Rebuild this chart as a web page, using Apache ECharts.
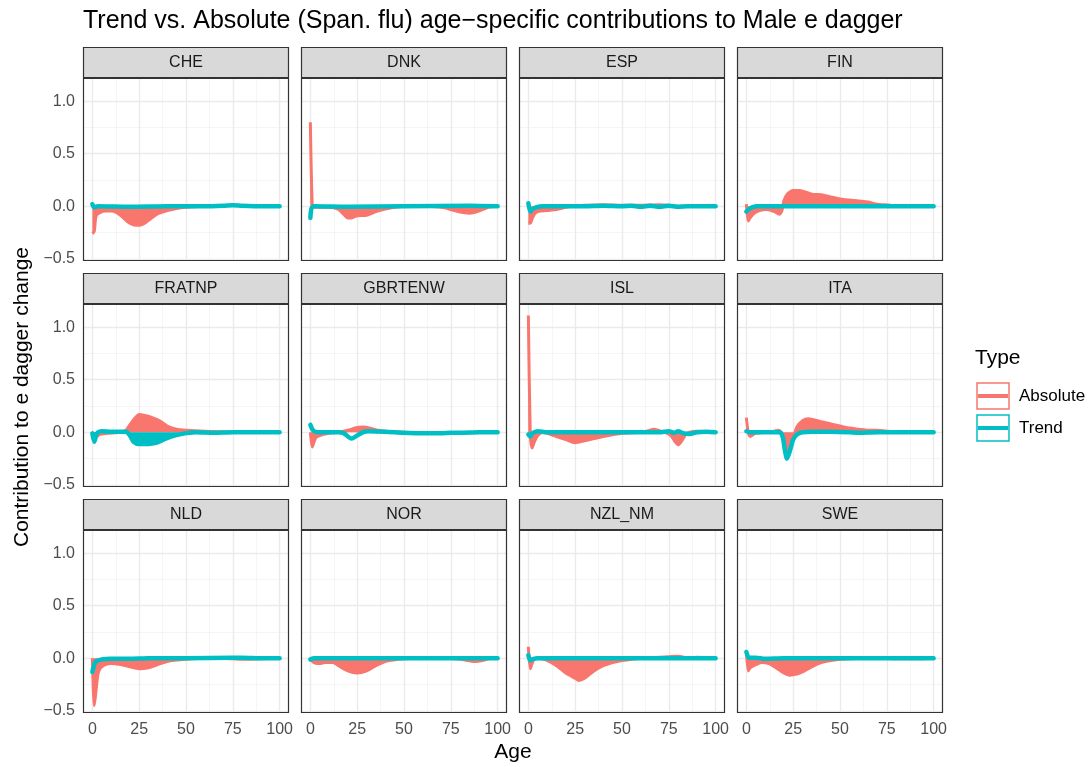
<!DOCTYPE html>
<html>
<head>
<meta charset="utf-8">
<script src="https://cdn.jsdelivr.net/npm/echarts@6/dist/echarts.min.js"></script>
<style>
  html, body { margin: 0; padding: 0; background: #ffffff; }
  #chart { width: 1091px; height: 767px; }
</style>
</head>
<body>
<div id="chart"></div>
<script>
// Panels, in facet order
const COUNTRIES = ['CHE', 'DNK', 'ESP', 'FIN', 'FRATNP', 'GBRTENW', 'ISL', 'ITA', 'NLD', 'NOR', 'NZL_NM', 'SWE'];

// Tick labels
const X_TICKS = [0, 25, 50, 75, 100];
const X_MINOR = [12.5, 37.5, 62.5, 87.5];
const Y_TICKS = [-0.5, 0, 0.5, 1.0];
const Y_MINOR = [-0.25, 0.25, 0.75];

// Age-specific contributions: [age, value]
const CHE_ABS = [[0,-0.26],[1,-0.24],[2,-0.09],[4,-0.06],[7,-0.045],[10,-0.045],[13,-0.06],[16,-0.1],[19,-0.15],[22,-0.175],[25,-0.18],[28,-0.16],[31,-0.12],[35,-0.07],[40,-0.04],[45,-0.02],[50,-0.01],[60,0],[70,0.005],[75,0.01],[80,0.005],[90,0],[100,0]];
const CHE_TREND = [[0,0.02],[1,-0.01],[3,0],[20,-0.005],[40,0],[60,0],[70,0.005],[75,0.01],[80,0.005],[90,0],[100,0]];

const DNK_ABS = [[0,0.8],[1,0.02],[2,-0.01],[10,-0.01],[15,-0.03],[18,-0.08],[20,-0.11],[22,-0.11],[25,-0.09],[30,-0.085],[35,-0.05],[40,-0.025],[50,0],[60,0],[70,-0.01],[75,-0.03],[80,-0.055],[85,-0.065],[90,-0.045],[95,-0.01],[100,0]];
const DNK_TREND = [[0,-0.11],[0.6,-0.02],[2,0],[20,-0.005],[50,0],[85,0.005],[100,0]];

const ESP_ABS = [[0,-0.16],[1,-0.16],[2,-0.12],[3,-0.08],[5,-0.05],[10,-0.04],[15,-0.03],[20,-0.01],[25,0.005],[30,0.01],[40,0.015],[50,0.01],[60,0.01],[70,0.015],[75,0.01],[80,0],[100,0]];
const ESP_TREND = [[0,0.03],[1,-0.05],[2,-0.03],[4,-0.01],[8,0],[30,0],[40,0.005],[50,0],[55,0.005],[60,-0.005],[65,0.005],[70,-0.005],[75,0.005],[80,-0.005],[85,0],[100,0]];

const FIN_ABS = [[0,0.02],[1,-0.14],[2,-0.11],[4,-0.07],[7,-0.04],[11,-0.03],[15,-0.05],[17.5,-0.075],[19,-0.04],[20,0.05],[22,0.12],[25,0.15],[28,0.15],[31,0.14],[35,0.115],[40,0.11],[45,0.09],[50,0.07],[60,0.05],[65,0.04],[70,0.02],[77,0.01],[80,0],[100,0]];
const FIN_TREND = [[0,-0.05],[1,-0.03],[3,-0.01],[6,0],[50,0],[100,0]];

const FRATNP_ABS = [[0,0],[1,-0.09],[2,-0.05],[4,-0.02],[8,-0.01],[15,0],[18,0.02],[20,0.07],[23,0.14],[25,0.17],[28,0.16],[32,0.14],[36,0.11],[40,0.06],[45,0.03],[50,0.02],[60,0.01],[70,0.005],[80,0],[100,0]];
const FRATNP_TREND = [[0,-0.01],[1,-0.09],[2,-0.03],[3,0],[5,0.01],[10,0.005],[18,0.005],[20,-0.03],[22,-0.09],[25,-0.11],[30,-0.11],[34,-0.1],[38,-0.07],[42,-0.04],[48,-0.015],[55,0],[65,-0.005],[75,0],[100,0]];

const GBRTENW_ABS = [[0,0],[1,-0.14],[2,-0.09],[3,-0.05],[5,-0.03],[10,-0.01],[15,0],[20,0.02],[25,0.045],[28,0.05],[32,0.04],[36,0.02],[40,0.01],[50,0],[60,-0.01],[70,-0.01],[80,-0.01],[90,0],[100,0]];
const GBRTENW_TREND = [[0,0.07],[1,0.03],[2,0.01],[5,0],[15,0],[18,-0.01],[20,-0.04],[22,-0.06],[25,-0.03],[28,0],[31,0.01],[40,0.005],[50,-0.005],[60,-0.01],[70,-0.01],[75,-0.005],[80,-0.005],[90,0],[100,0]];

const ISL_ABS = [[0,1.11],[1,0],[2,-0.15],[3,-0.1],[5,-0.03],[8,0],[10,-0.01],[15,-0.04],[20,-0.07],[25,-0.1],[30,-0.08],[35,-0.06],[40,-0.04],[50,-0.01],[60,0],[64,0.015],[67,0.03],[70,0.015],[73,0],[76,-0.03],[78,-0.08],[80,-0.12],[82,-0.08],[84,-0.02],[86,0],[90,0.01],[95,0.005],[100,0]];
const ISL_TREND = [[0,-0.02],[1,-0.04],[2,-0.01],[5,0.01],[10,0],[70,0],[75,0.01],[78,-0.005],[80,0.01],[83,-0.01],[86,-0.015],[90,0],[95,0.005],[100,0]];

const ITA_ABS = [[0,0.14],[1,0],[2,-0.04],[3,-0.03],[5,-0.01],[10,0],[15,0.01],[17,0.02],[18.5,0],[20,-0.08],[21.5,-0.25],[23,-0.2],[25,-0.06],[27,0.05],[30,0.11],[33,0.13],[36,0.12],[40,0.1],[45,0.08],[50,0.06],[55,0.04],[60,0.03],[65,0.02],[70,0.02],[75,0.01],[80,0.005],[100,0]];
const ITA_TREND = [[0,0.01],[2,0],[15,0],[18,0],[19.5,-0.05],[20.5,-0.16],[21.7,-0.25],[23,-0.19],[25,-0.07],[27,-0.02],[30,0],[35,0.005],[45,0.005],[55,0],[60,-0.005],[70,0],[100,0]];

const NLD_ABS = [[0,0],[0.5,-0.3],[1,-0.45],[2,-0.3],[3,-0.15],[4,-0.1],[5,-0.08],[7,-0.06],[10,-0.05],[15,-0.06],[20,-0.08],[25,-0.1],[30,-0.09],[35,-0.06],[40,-0.03],[50,-0.01],[60,0],[70,0],[75,-0.005],[80,-0.01],[90,-0.005],[100,0]];
const NLD_TREND = [[0,-0.13],[1,-0.06],[2,-0.03],[5,-0.01],[10,-0.005],[20,-0.005],[30,0],[50,0],[75,0.005],[80,0.005],[90,0],[100,0]];

const NOR_ABS = [[0,-0.01],[2,-0.04],[5,-0.05],[8,-0.04],[12,-0.04],[15,-0.07],[20,-0.12],[25,-0.14],[30,-0.12],[35,-0.07],[40,-0.03],[50,-0.005],[60,0],[70,0],[80,-0.01],[88,-0.03],[92,-0.02],[95,-0.005],[100,0]];
const NOR_TREND = [[0,-0.01],[2,0],[50,0],[100,0]];

const NZL_NM_ABS = [[0,0.11],[1,-0.1],[2,-0.05],[3,-0.01],[5,0],[7,-0.005],[10,-0.02],[15,-0.07],[20,-0.14],[25,-0.19],[27,-0.21],[30,-0.19],[35,-0.12],[40,-0.07],[45,-0.04],[50,-0.02],[55,-0.01],[60,0],[65,0.005],[70,0.01],[75,0.015],[80,0.02],[83,0.01],[85,0],[90,0.01],[95,0.005],[100,0]];
const NZL_NM_TREND = [[0,0.03],[1,-0.02],[2,-0.01],[5,0],[100,0]];

const SWE_ABS = [[0,0.07],[1,-0.12],[2,-0.09],[5,-0.06],[8,-0.04],[12,-0.05],[15,-0.08],[20,-0.14],[23,-0.16],[27,-0.15],[30,-0.13],[35,-0.08],[40,-0.04],[50,-0.01],[60,0],[70,0.005],[80,-0.005],[90,-0.005],[100,0]];
const SWE_TREND = [[0,0.06],[1,0.01],[2,0.005],[5,0.005],[10,-0.005],[20,0],[100,0]];

const ABSOLUTE = [CHE_ABS, DNK_ABS, ESP_ABS, FIN_ABS, FRATNP_ABS, GBRTENW_ABS, ISL_ABS, ITA_ABS, NLD_ABS, NOR_ABS, NZL_NM_ABS, SWE_ABS];
const TREND = [CHE_TREND, DNK_TREND, ESP_TREND, FIN_TREND, FRATNP_TREND, GBRTENW_TREND, ISL_TREND, ITA_TREND, NLD_TREND, NOR_TREND, NZL_NM_TREND, SWE_TREND];
// Trend contributions drawn as a band in this panel
const TREND_FILLED = ['FRATNP'];

const RED = '#F8766D';
const TEAL = '#00BFC4';
const FONT = '"Liberation Sans", Arial, Helvetica, sans-serif';

// Facet layout
const COL_LEFT = [83, 301, 519, 737];
const ROW_TOP = [78, 304, 530];
const PANEL_W = 206;
const PANEL_H = 183;
const STRIP_H = 31;
const Y_MIN = -0.52, Y_MAX = 1.22;
const X_MIN = -5, X_MAX = 105;

const fmtY = v => (v < 0 ? '\u2212' : '') + Math.abs(v).toFixed(1);

const grid = [], xAxis = [], yAxis = [], series = [], graphic = [];

COUNTRIES.forEach((name, i) => {
  const row = Math.floor(i / 4), col = i % 4;
  const left = COL_LEFT[col], top = ROW_TOP[row];

  grid.push({
    left: left, top: top, width: PANEL_W, height: PANEL_H,
    show: true, backgroundColor: '#ffffff', borderColor: '#333333', borderWidth: 0
  });

  xAxis.push({
    gridIndex: i, type: 'value', min: X_MIN, max: X_MAX,
    axisLine: { show: false },
    splitLine: { show: false },
    axisTick: { show: row === 2, length: 4, lineStyle: { color: '#333333', width: 1 }, customValues: X_TICKS },
    axisLabel: { show: row === 2, customValues: X_TICKS, color: '#4d4d4d', fontSize: 16, fontFamily: FONT, margin: 9 }
  });

  yAxis.push({
    gridIndex: i, type: 'value', min: Y_MIN, max: Y_MAX,
    axisLine: { show: false },
    splitLine: { show: false },
    axisTick: { show: col === 0, length: 4, lineStyle: { color: '#333333', width: 1 }, customValues: Y_TICKS },
    axisLabel: { show: col === 0, customValues: Y_TICKS, formatter: fmtY, color: '#4d4d4d', fontSize: 16, fontFamily: FONT, margin: 8 }
  });

  // Panel grid lines, kept beneath the data
  const major = { color: '#ebebeb', width: 1.4, type: 'solid' };
  const minor = { color: '#f2f2f2', width: 0.8, type: 'solid' };
  const lines = []
    .concat(X_MINOR.map(v => ({ xAxis: v, lineStyle: minor })))
    .concat(Y_MINOR.map(v => ({ yAxis: v, lineStyle: minor })))
    .concat(X_TICKS.map(v => ({ xAxis: v, lineStyle: major })))
    .concat(Y_TICKS.map(v => ({ yAxis: v, lineStyle: major })));
  series.push({
    type: 'line', xAxisIndex: i, yAxisIndex: i, z: 1,
    data: [[0, 0]], symbol: 'none', lineStyle: { opacity: 0 }, silent: true,
    animation: false,
    markLine: {
      z: 1, silent: true, symbol: ['none', 'none'], label: { show: false },
      animation: false, emphasis: { disabled: true }, data: lines
    }
  });

  series.push({
    name: 'Absolute', type: 'line', xAxisIndex: i, yAxisIndex: i, z: 2,
    data: ABSOLUTE[i], symbol: 'none', smooth: 0.25, animation: false, silent: true,
    lineStyle: { color: RED, width: 3, join: 'round' },
    areaStyle: { color: RED, opacity: 1, origin: 0 }
  });

  const filled = TREND_FILLED.indexOf(name) >= 0;
  series.push({
    name: 'Trend', type: 'line', xAxisIndex: i, yAxisIndex: i, z: 3,
    data: TREND[i], symbol: 'none', smooth: 0.25, animation: false, silent: true,
    lineStyle: { color: TEAL, width: 4.5, cap: 'round', join: 'round' },
    areaStyle: filled ? { color: TEAL, opacity: 1, origin: 0 } : undefined
  });

  // Panel border on top of the data
  graphic.push({
    type: 'rect', silent: true, z: 50,
    shape: { x: left + 0.5, y: top + 0.5, width: PANEL_W - 1, height: PANEL_H - 1 },
    style: { fill: null, stroke: '#333333', lineWidth: 1.2 }
  });

  // Facet strip
  graphic.push({
    type: 'rect', silent: true, z: 50,
    shape: { x: left + 0.5, y: top - STRIP_H + 0.5, width: PANEL_W - 1, height: STRIP_H - 1 },
    style: { fill: '#d9d9d9', stroke: '#333333', lineWidth: 1.2 }
  });
  graphic.push({
    type: 'text', silent: true, z: 51,
    x: left + PANEL_W / 2, y: top - STRIP_H / 2,
    style: { text: name, fill: '#1a1a1a', font: '16px ' + FONT, align: 'center', verticalAlign: 'middle' }
  });
});

// Titles
graphic.push({
  type: 'text', silent: true, x: 83, y: 21,
  style: { text: 'Trend vs. Absolute (Span. flu) age\u2212specific contributions to Male e dagger', fill: '#000000', font: '25px ' + FONT, align: 'left', verticalAlign: 'middle' }
});
graphic.push({
  type: 'text', silent: true, x: 513, y: 752,
  style: { text: 'Age', fill: '#000000', font: '21px ' + FONT, align: 'center', verticalAlign: 'middle' }
});
graphic.push({
  type: 'text', silent: true, x: 22, y: 397, rotation: Math.PI / 2,
  style: { text: 'Contribution to e dagger change', fill: '#000000', font: '21px ' + FONT, align: 'center', verticalAlign: 'middle' }
});

// Legend
graphic.push({
  type: 'text', silent: true, x: 975, y: 358,
  style: { text: 'Type', fill: '#000000', font: '21px ' + FONT, align: 'left', verticalAlign: 'middle' }
});
[['Absolute', RED, 396], ['Trend', TEAL, 428]].forEach(([label, color, cy]) => {
  graphic.push({
    type: 'rect', silent: true,
    shape: { x: 977, y: cy - 13, width: 32, height: 26 },
    style: { fill: '#ffffff', stroke: color, lineWidth: 1.5 }
  });
  graphic.push({
    type: 'line', silent: true,
    shape: { x1: 978, y1: cy, x2: 1008, y2: cy },
    style: { stroke: color, lineWidth: 4 }
  });
  graphic.push({
    type: 'text', silent: true, x: 1019, y: cy,
    style: { text: label, fill: '#000000', font: '17px ' + FONT, align: 'left', verticalAlign: 'middle' }
  });
});

const chart = echarts.init(document.getElementById('chart'), null, { renderer: 'canvas' });
chart.setOption({
  backgroundColor: '#ffffff',
  animation: false,
  grid: grid,
  xAxis: xAxis,
  yAxis: yAxis,
  series: series,
  graphic: graphic
});
</script>
</body>
</html>
